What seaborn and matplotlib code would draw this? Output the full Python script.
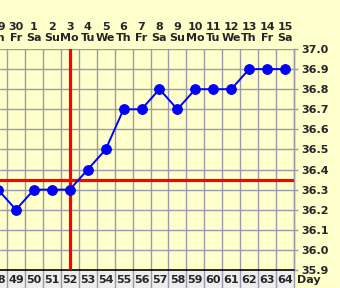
import matplotlib
matplotlib.use("Agg")
import matplotlib.pyplot as plt
import seaborn as sns
import pandas as pd
from matplotlib.patches import Rectangle

# ---- data ----
cycle_days = [48, 49, 50, 51, 52, 53, 54, 55, 56, 57, 58, 59, 60, 61, 62, 63, 64]
temps = [36.3, 36.2, 36.3, 36.3, 36.3, 36.4, 36.5, 36.7, 36.7, 36.8, 36.7, 36.8, 36.8, 36.8, 36.9, 36.9, 36.9]
month_days = ["29", "30", "1", "2", "3", "4", "5", "6", "7", "8", "9", "10", "11", "12", "13", "14", "15"]
weekdays = ["Th", "Fr", "Sa", "Su", "Mo", "Tu", "We", "Th", "Fr", "Sa", "Su", "Mo", "Tu", "We", "Th", "Fr", "Sa"]
y_ticks = [35.9, 36.0, 36.1, 36.2, 36.3, 36.4, 36.5, 36.6, 36.7, 36.8, 36.9, 37.0]
coverline = 36.35
ovulation_day = 52

sns.set_style("white")
plt.rcParams['font.family'] = ['DejaVu Sans']

W, H = 340, 288
fig = plt.figure(figsize=(W / 100, H / 100), dpi=100)
fig.patch.set_facecolor("#FFFFCC")

ax_left_px, ax_right_px, ax_top_px, ax_bot_px = 0, 294, 49, 270
ax = fig.add_axes([ax_left_px / W, (H - ax_bot_px) / H,
                   (ax_right_px - ax_left_px) / W, (ax_bot_px - ax_top_px) / H])
ax.set_facecolor("#FFFFCC")

cell = (ax_right_px - 7) / 16.0
x_lo = 48.5 - 7 / cell
ax.set_xlim(x_lo, 64.5)
ax.set_ylim(35.9, 37.0)
px = 1.1 / (ax_bot_px - ax_top_px)  # data units per pixel (y)

# grey label row at bottom (drawn beneath the axes)
fig.patches.append(Rectangle((0, 0), ax_right_px / W, (H - ax_bot_px) / H,
                             transform=fig.transFigure, facecolor="#EEEEEE",
                             edgecolor="none", zorder=-5))

grid_c = "#9A9AAB"
# horizontal grid
for yv in y_ticks[1:]:
    ax.axhline(yv, color=grid_c, lw=1, zorder=1)
ax.axhline(35.9, color="black", lw=1.2, zorder=3, clip_on=False)
# vertical grid (cell boundaries), extended into the label row
row_bottom = 35.9 - (H - ax_bot_px) * px
for xb in [d + 0.5 for d in cycle_days]:
    ax.plot([xb, xb], [row_bottom, 37.0], color=grid_c, lw=1, zorder=1, clip_on=False)

# coverline and ovulation line
ax.axhline(coverline, color="#FF0000", lw=2.3, zorder=4)
ax.axvline(ovulation_day, color="#FF0000", lw=2.3, zorder=4)

df = pd.DataFrame({"day": cycle_days, "temp": temps})
sns.lineplot(data=df, x="day", y="temp", ax=ax, color="#0000FF", lw=1.4,
             marker="o", markersize=7, markeredgecolor="#0000FF",
             markerfacecolor="#0000FF", zorder=5)

ax.set_xlabel("")
ax.set_ylabel("")
ax.set_xticks([])
ax.yaxis.tick_right()
ax.set_yticks(y_ticks)
ax.set_yticklabels([f"{v:.1f}" for v in y_ticks], fontsize=8, fontweight="bold")
ax.tick_params(axis="y", length=3, width=1, color=grid_c, pad=2, right=True)
for s in ["top", "left", "bottom"]:
    ax.spines[s].set_visible(False)
ax.spines["right"].set_color(grid_c)
ax.spines["right"].set_linewidth(1)

# top labels (day of month, weekday) and bottom cycle-day labels
for d, md, wd in zip(cycle_days, month_days, weekdays):
    ax.text(d, 37.0 + 22 * px, md, ha="center", va="center", fontsize=8,
            fontweight="bold", clip_on=False)
    ax.text(d, 37.0 + 11 * px, wd, ha="center", va="center", fontsize=8,
            fontweight="bold", clip_on=False)
    ax.text(d, 35.9 - 10 * px, str(d), ha="center", va="center", fontsize=8,
            fontweight="bold", clip_on=False, zorder=6)

fig.text(297 / W, (H - 280) / H, "Day", ha="left", va="center", fontsize=8,
         fontweight="bold")

fig.savefig("out.png", dpi=100, facecolor=fig.get_facecolor())
